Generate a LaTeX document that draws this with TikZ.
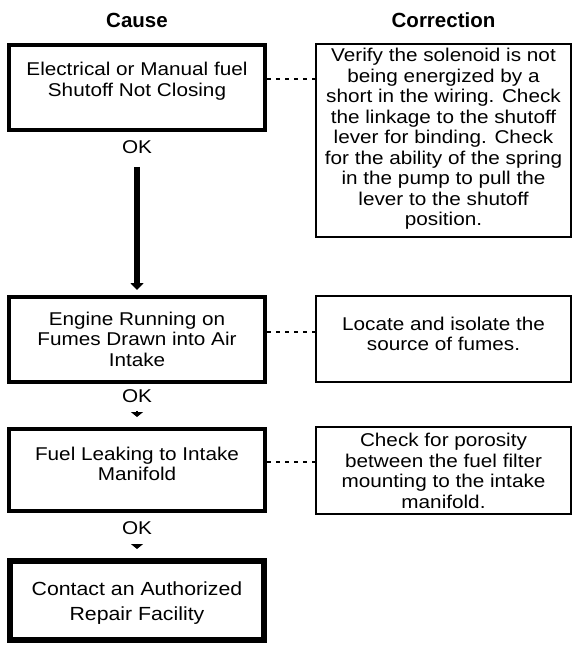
\documentclass[tikz,border=0pt]{standalone}
\usepackage{fontspec}
\setmainfont{Liberation Sans}
\newfontfamily\scanfont[FakeStretch=1.12]{Liberation Sans}
\usetikzlibrary{arrows.meta}
\begin{document}
\begin{tikzpicture}[x=1pt,y=-1pt,
  head/.style={font=\fontsize{20.5}{24}\selectfont\bfseries, inner sep=0pt},
  scan/.style={font=\scanfont\fontsize{18.5}{20.5}\selectfont, align=center, inner sep=0pt},
  big/.style={font=\scanfont\fontsize{19}{25}\selectfont, align=center, inner sep=0pt},
  oklabel/.style={font=\scanfont\fontsize{18.5}{20.5}\selectfont, inner sep=0pt},
  causebox/.style={draw, line width=4pt, inner sep=0pt, minimum width=256pt},
  endbox/.style={draw, line width=6pt, inner sep=0pt, minimum width=254pt},
  corrbox/.style={draw, line width=2pt, inner sep=0pt, minimum width=255pt},
  dotline/.style={line width=2pt, dash pattern=on 4pt off 5pt},
  bigarrow/.style={line width=6pt, -{Triangle[width=13pt,length=7pt]}},
  smallarrow/.style={line width=2.5pt, -{Triangle[width=12pt,length=5pt]}}
]
\useasboundingbox (0,0) rectangle (573,645);
% headers
\node[head] (hc) at (137,20) {Cause};
\node[head] (hr) at (443.5,20) {Correction};
% cause boxes
\node[causebox, minimum height=85pt] (c1) at (137,87.5) {};
\node[causebox, minimum height=85pt] (c2) at (137,339.5) {};
\node[causebox, minimum height=82pt] (c3) at (137,470) {};
\node[endbox, minimum height=79pt] (c4) at (137,600.5) {};
% correction boxes
\node[corrbox, minimum height=193pt] (r1) at (443.5,140.5) {};
\node[corrbox, minimum height=86pt] (r2) at (443.5,339) {};
\node[corrbox, minimum height=87pt] (r3) at (443.5,470.5) {};
% texts
\node[scan] (c1t) at (137,81) {Electrical or Manual fuel\\Shutoff Not Closing};
\node[scan] (c2t) at (137,339) {Engine Running on\\Fumes Drawn into Air\\Intake};
\node[scan] (c3t) at (137,464) {Fuel Leaking to Intake\\Manifold};
\node[big] (c4t) at (137,603) {Contact an Authorized\\Repair Facility};
\node[scan] (r1t) at (443.5,139) {Verify the solenoid is not\\being energized by a\\short in the wiring. Check\\the linkage to the shutoff\\lever for binding. Check\\for the ability of the spring\\in the pump to pull the\\lever to the shutoff\\position.};
\node[scan] (r2t) at (443.5,334) {Locate and isolate the\\source of fumes.};
\node[scan] (r3t) at (443.5,471) {Check for porosity\\between the fuel filter\\mounting to the intake\\manifold.};
% OK labels
\node[oklabel] (ok1) at (137,147) {OK};
\node[oklabel] (ok2) at (137,396) {OK};
\node[oklabel] (ok3) at (137,528) {OK};
% arrows
\draw[bigarrow, shorten <=13pt, shorten >=5pt] (ok1) -- (c2.north);
\draw[smallarrow, shorten <=8pt, shorten >=10pt] (ok2) -- (c3.north);
\draw[smallarrow, shorten <=9pt, shorten >=9pt] (ok3) -- (c4.north);
% dotted connectors
\draw[dotline] ([yshift=8.5pt]c1.east) -- ([yshift=8.5pt]c1.east -| r1.west);
\draw[dotline] ([yshift=7.5pt]c2.east) -- ([yshift=7.5pt]c2.east -| r2.west);
\draw[dotline] ([yshift=8pt]c3.east) -- ([yshift=8pt]c3.east -| r3.west);
\end{tikzpicture}
\end{document}
